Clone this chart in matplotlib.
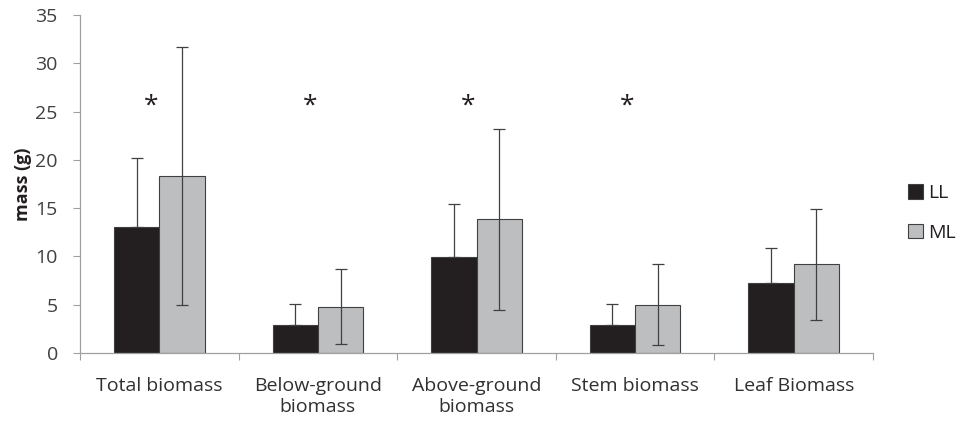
import matplotlib
matplotlib.use("Agg")
import matplotlib.pyplot as plt
import numpy as np

categories = ["Total biomass", "Below-ground\nbiomass", "Above-ground\nbiomass", "Stem biomass", "Leaf Biomass"]
ll_values = [13.0, 2.9, 9.9, 2.9, 7.3]
ll_errors = [7.2, 2.2, 5.5, 2.2, 3.6]
ml_values = [18.3, 4.8, 13.85, 5.0, 9.2]
ml_errors = [13.35, 3.9, 9.35, 4.2, 5.75]
significant = [True, True, True, True, False]
yticks = [0, 5, 10, 15, 20, 25, 30, 35]

plt.rcParams['font.family'] = ['Open Sans', 'DejaVu Sans']

fig = plt.figure(figsize=(9.61, 4.21), dpi=100)
ax = fig.add_axes([80/961, 1-353/421, (873-80)/961, (353-15)/421])

x = np.arange(len(categories))
w = 1/3.5
gray = '#404040'
ax.bar(x - w/2, ll_values, w, color='#231f20', edgecolor=gray, linewidth=0.8, label='LL', zorder=2)
ax.bar(x + w/2, ml_values, w, color='#bcbec0', edgecolor=gray, linewidth=0.8, label='ML', zorder=2)
ax.errorbar(x - w/2, ll_values, yerr=[np.zeros(len(ll_values)), ll_errors], fmt='none',
            ecolor=gray, elinewidth=0.9, capsize=4.5, capthick=0.9, zorder=3)
ax.errorbar(x + w/2, ml_values, yerr=ml_errors, fmt='none',
            ecolor=gray, elinewidth=0.9, capsize=4.5, capthick=0.9, zorder=3)

for i, s in enumerate(significant):
    if s:
        ax.text(i - 0.05, 25.6, '*', ha='center', va='center', fontsize=19, color='#231f20')

ax.set_xlim(-0.5, len(categories) - 0.5)
ax.set_ylim(0, 35)
ax.set_yticks(yticks)
ax.set_xticks(np.arange(-0.5, len(categories)), minor=False)
ax.set_xticklabels([])
ax.set_xticks(x, minor=True)
ax.set_xticklabels(categories, minor=True, fontsize=14, color='#303030', linespacing=1.25)
ax.tick_params(axis='x', which='major', length=5, color='#a0a0a0', width=0.8)
ax.tick_params(axis='x', which='minor', length=0, pad=17)
ax.tick_params(axis='y', length=5, color='#a0a0a0', width=0.8, labelsize=14, labelcolor='#404040', pad=11)

for sp in ['top', 'right']:
    ax.spines[sp].set_visible(False)
for sp in ['left', 'bottom']:
    ax.spines[sp].set_color('#a0a0a0')
    ax.spines[sp].set_linewidth(0.9)

ax.set_ylabel('mass (g)', fontsize=13, fontweight='bold', color='#231f20', labelpad=2)

leg = fig.legend(loc='center left', bbox_to_anchor=(908/961, 1-213/421), frameon=False,
                 fontsize=14, handlelength=0.75, handleheight=0.75, handletextpad=0.3,
                 labelspacing=1.1, borderpad=0, borderaxespad=0)
for t in leg.get_texts():
    t.set_color('#231f20')

fig.savefig('out.png', dpi=100)
